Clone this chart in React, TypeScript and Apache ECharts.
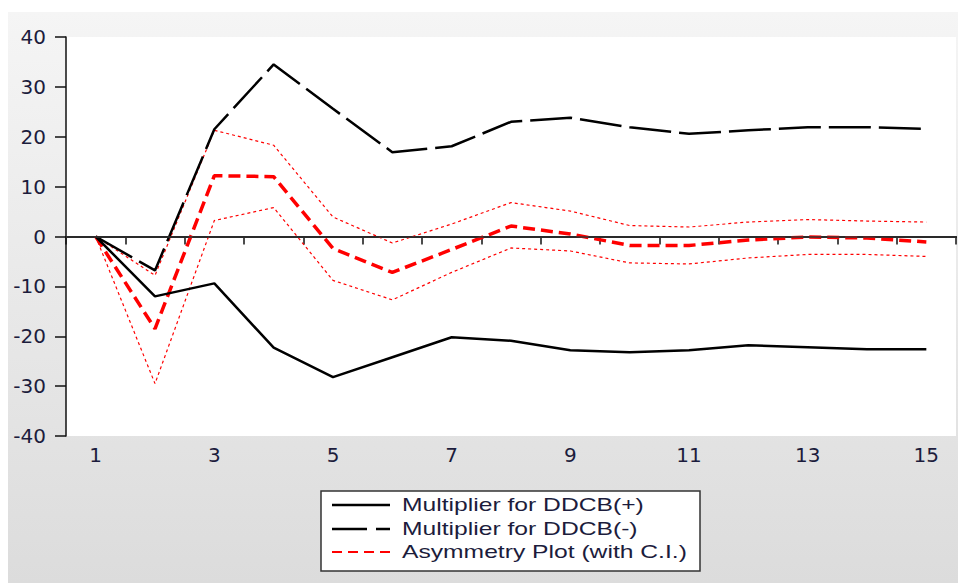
import React, { useEffect, useRef } from "react";
import * as echarts from "echarts";

const categories = ["1", "2", "3", "4", "5", "6", "7", "8", "9", "10", "11", "12", "13", "14", "15"];
const multPos = [0, -12, -9.4, -22.3, -28.2, -24.2, -20.2, -20.9, -22.8, -23.2, -22.8, -21.8, -22.2, -22.6, -22.6];
const multNeg = [0, -6.8, 21.5, 34.5, 25.6, 16.9, 18.1, 23.0, 23.8, 21.9, 20.6, 21.3, 21.9, 21.9, 21.6];
const asym = [0, -18.5, 12.2, 12.0, -2.4, -7.2, -2.6, 2.1, 0.5, -1.8, -1.8, -0.7, -0.1, -0.3, -1.1];
const ciUpper = [0, -7.8, 21.3, 18.3, 3.9, -1.3, 2.5, 6.8, 5.1, 2.2, 1.9, 2.9, 3.4, 3.1, 2.9];
const ciLower = [0, -29.5, 3.2, 5.8, -8.8, -12.7, -7.2, -2.3, -2.9, -5.3, -5.5, -4.3, -3.6, -3.6, -4.0];
const legendNames = ["Multiplier for DDCB(+)", "Multiplier for DDCB(-)", "Asymmetry Plot (with C.I.)"];

const TEXT_COLOR = "#1c1c3c";

export default function App() {
  const ref = useRef<HTMLDivElement>(null);
  useEffect(() => {
    if (!ref.current) return;
    const chart = echarts.init(ref.current, undefined, { renderer: "svg" });
    const lx = 332;
    const tx = 402;
    const rows = [505, 529, 552];
    chart.setOption({
      animation: false,
      grid: { left: 66, top: 37, right: 2, bottom: 147, show: true, backgroundColor: "#ffffff", borderWidth: 0 },
      xAxis: {
        type: "category",
        data: categories,
        boundaryGap: true,
        axisLine: { lineStyle: { color: "#111", width: 2 } },
        axisTick: { show: true, interval: 0, length: 8, lineStyle: { color: "#111", width: 1.5 } },
        axisLabel: { interval: 1, margin: 9, fontFamily: "DejaVu Sans", fontSize: 20, color: TEXT_COLOR },
        splitLine: { show: false },
      },
      yAxis: {
        type: "value",
        min: -40,
        max: 40,
        interval: 10,
        axisLine: { show: true, lineStyle: { color: "#111", width: 1.5 } },
        axisTick: { show: true, length: 11, lineStyle: { color: "#111", width: 1.5 } },
        axisLabel: { margin: 20, fontFamily: "DejaVu Sans", fontSize: 20, color: TEXT_COLOR },
        splitLine: { show: false },
      },
      series: [
        {
          name: "CI upper",
          type: "line",
          data: ciUpper,
          symbol: "none",
          z: 2,
          lineStyle: { color: "#ff0000", width: 1.2, type: [3, 3] },
          markLine: {
            silent: true,
            symbol: "none",
            label: { show: false },
            lineStyle: { color: "#333", width: 1.5, type: "solid" },
            data: [{ yAxis: 0 }],
          },
        },
        {
          name: "CI lower",
          type: "line",
          data: ciLower,
          symbol: "none",
          z: 2,
          lineStyle: { color: "#ff0000", width: 1.2, type: [3, 3] },
        },
        {
          name: legendNames[2],
          type: "line",
          data: asym,
          symbol: "none",
          z: 3,
          lineStyle: { color: "#ff0000", width: 3.5, type: [12, 6] },
        },
        {
          name: legendNames[0],
          type: "line",
          data: multPos,
          symbol: "none",
          z: 4,
          lineStyle: { color: "#000", width: 2.5, type: "solid" },
        },
        {
          name: legendNames[1],
          type: "line",
          data: multNeg,
          symbol: "none",
          z: 4,
          lineStyle: { color: "#000", width: 2.5, type: [42, 8] },
        },
      ],
      graphic: [
        {
          type: "rect",
          shape: { x: 321, y: 491, width: 379, height: 80 },
          style: { fill: "#ffffff", stroke: "#333", lineWidth: 1.5 },
        },
        {
          type: "line",
          shape: { x1: lx, y1: rows[0], x2: lx + 58, y2: rows[0] },
          style: { stroke: "#000", lineWidth: 2.5 },
        },
        {
          type: "line",
          shape: { x1: lx, y1: rows[1], x2: lx + 58, y2: rows[1] },
          style: { stroke: "#000", lineWidth: 2.5, lineDash: [35, 9] },
        },
        {
          type: "line",
          shape: { x1: lx, y1: rows[2], x2: lx + 58, y2: rows[2] },
          style: { stroke: "#ff0000", lineWidth: 2, lineDash: [10, 6] },
        },
        ...legendNames.map((name, i) => ({
          type: "text",
          x: tx,
          y: rows[i],
          scaleX: 1.37,
          style: {
            text: name,
            fontFamily: "Liberation Sans",
            fontSize: 18,
            fill: TEXT_COLOR,
            textVerticalAlign: "middle",
            verticalAlign: "middle",
            align: "left",
          },
        })),
      ],
    });
    return () => chart.dispose();
  }, []);
  return (
    <div
      ref={ref}
      style={{
        position: "fixed",
        left: 0,
        top: 0,
        width: 958,
        height: 583,
        background: "linear-gradient(#f5f5f5, #dcdcdc) 8px 12px / 950px 571px no-repeat, #ffffff",
      }}
    />
  );
}
